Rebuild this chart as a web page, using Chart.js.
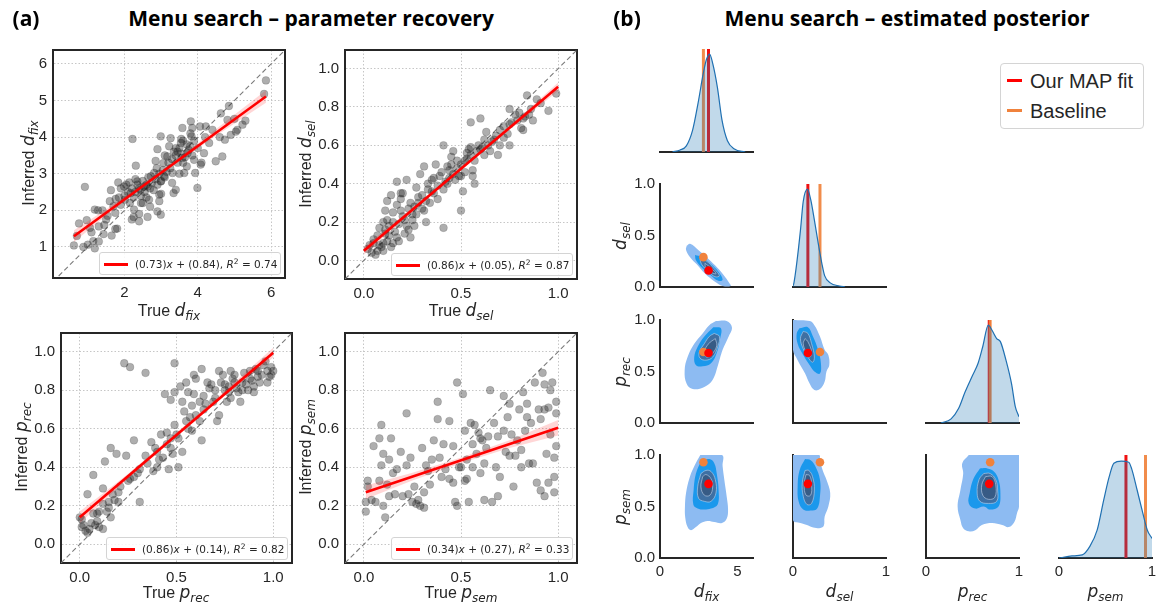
<!DOCTYPE html>
<html>
<head>
<meta charset="utf-8">
<script src="https://cdn.jsdelivr.net/npm/chart.js@4.4.0/dist/chart.umd.min.js"></script>
<style>
body { margin: 0; background: #fff; }
#fig { position: relative; width: 1156px; height: 607px; overflow: hidden; background: #fff; color: #262626; font-family: "Liberation Sans", Arial, sans-serif; }
#fig canvas { position: absolute; }
.t { position: absolute; white-space: nowrap; line-height: 1; }
.lab { font-size: 16px; }
.m { font-family: "DejaVu Sans"; font-style: italic; font-size: 17px; }
.m sub { font-size: 12px; vertical-align: -4px; line-height: 0; }
.big .m { font-size: 17px; }
.title { font-family: "Open Sans"; font-weight: 700; font-size: 21px; color: #000; }
.leg { position: absolute; box-sizing: border-box; border: 1px solid #d4d4d4; border-radius: 3px; background: rgba(255,255,255,0.85); font-family: "DejaVu Sans"; font-size: 10.5px; white-space: nowrap; }
.leg .ln { position: absolute; height: 2.5px; }
.leg .tx { position: absolute; }
.leg sup { font-size: 7.5px; vertical-align: 4px; line-height: 0; }
.bigleg { font-family: "Liberation Sans"; font-size: 20px; }
</style>
</head>
<body>
<div id="fig"></div>
<script>
// ---- panel (a): true vs inferred parameters ----
const fixPts = [[0.62,1.04],[0.76,1.64],[0.92,2.64],[0.88,1.0],[1.0,1.06],[0.97,1.73],[1.06,1.52],[1.19,2.02],[1.28,2.0],[1.19,0.96],[1.15,1.16],[1.3,1.56],[1.45,1.6],[1.43,1.35],[1.65,1.31],[1.75,1.49],[1.54,1.85],[1.7,2.11],[1.76,2.31],[1.63,2.55],[1.83,2.76],[1.75,1.93],[1.9,2.15],[2.01,2.29],[1.99,2.65],[2.13,2.76],[2.22,3.95],[2.26,2.02],[2.25,1.82],[2.31,3.22],[2.35,2.79],[2.43,2.56],[2.17,2.47],[2.54,2.65],[2.63,2.65],[2.67,2.29],[2.45,2.2],[2.4,1.7],[2.63,1.82],[2.72,2.93],[2.81,3.02],[2.88,3.15],[2.99,4.02],[2.9,3.67],[3.06,3.29],[2.99,2.79],[2.95,2.43],[2.9,1.97],[2.99,1.88],[3.08,2.93],[3.17,3.47],[3.26,3.97],[3.22,3.75],[3.34,2.47],[3.4,2.56],[3.31,3.02],[3.45,3.6],[3.54,3.84],[3.58,4.25],[3.58,3.43],[3.63,3.02],[3.7,3.2],[3.72,3.56],[3.81,4.43],[3.83,4.02],[3.85,4.25],[3.79,3.75],[3.9,3.38],[3.93,3.02],[3.99,2.61],[4.06,4.29],[4.08,3.25],[4.17,3.56],[4.22,4.29],[4.31,3.84],[4.49,3.34],[4.63,4.65],[4.67,3.47],[4.74,3.93],[4.85,4.85],[4.9,4.06],[5.04,4.15],[5.08,4.2],[5.22,4.34],[4.81,4.47],[5.81,5.18],[5.86,5.55],
  [2.1,2.5],[2.2,2.6],[2.3,2.5],[2.35,2.7],[2.4,2.6],[2.45,2.4],[2.5,2.8],[2.55,2.5],[2.6,2.7],[2.65,2.9],[2.7,2.6],[2.75,2.75],[2.8,2.55],[2.85,2.85],[2.9,2.7],[2.95,3.0],[3.0,2.8],[3.05,3.1],[3.1,2.9],[3.15,3.05],[3.2,3.3],[3.25,3.15],[3.3,3.4],[3.35,3.6],[3.4,3.5],[3.45,3.3],[3.5,3.7],[3.55,3.55],[3.6,3.9],[3.65,3.45],[3.7,3.8],[3.75,3.65],[3.8,4.1],[3.85,3.5],[3.55,3.95],[3.4,3.7],[2.0,2.4],[1.9,2.6],[2.15,2.2],[2.25,2.35],[2.5,2.2],[2.6,2.35],[2.3,2.85],[2.05,2.7],[1.85,2.35],[1.6,2.25],[1.4,2.0],[1.5,1.75],[2.7,2.1],[3.0,2.45],[3.3,2.75],[3.1,3.5],[2.85,3.35],[4.0,3.7],[4.2,4.0],[4.4,4.2],[3.9,3.9],[4.1,3.3],[3.6,3.3],[3.5,3.0],[2.95,2.25],[2.4,1.9],[2.2,1.75],[1.8,1.5],[1.1,1.4],[1.3,1.15],[0.7,1.3],[5.3,4.45],[5.0,4.5],[4.6,4.0]];

const selPts = [[0.02,0.06],[0.04,0.04],[0.07,0.05],[0.05,0.09],[0.08,0.08],[0.1,0.09],[0.11,0.14],[0.08,0.17],[0.12,0.21],[0.11,0.26],[0.12,0.31],[0.14,0.34],[0.13,0.13],[0.15,0.09],[0.17,0.12],[0.17,0.41],[0.19,0.26],[0.19,0.32],[0.2,0.35],[0.22,0.42],[0.21,0.21],[0.23,0.16],[0.24,0.3],[0.25,0.24],[0.26,0.18],[0.27,0.38],[0.28,0.33],[0.29,0.45],[0.31,0.49],[0.31,0.26],[0.32,0.2],[0.33,0.37],[0.34,0.3],[0.35,0.42],[0.36,0.35],[0.37,0.5],[0.38,0.32],[0.39,0.44],[0.41,0.6],[0.41,0.17],[0.41,0.37],[0.43,0.4],[0.43,0.49],[0.44,0.43],[0.45,0.54],[0.46,0.45],[0.46,0.57],[0.48,0.48],[0.49,0.44],[0.5,0.26],[0.5,0.44],[0.51,0.36],[0.52,0.52],[0.53,0.56],[0.54,0.58],[0.55,0.59],[0.55,0.72],[0.56,0.47],[0.56,0.44],[0.57,0.4],[0.58,0.57],[0.6,0.74],[0.61,0.59],[0.63,0.67],[0.65,0.57],[0.67,0.63],[0.69,0.55],[0.7,0.6],[0.75,0.79],[0.75,0.6],[0.75,0.71],[0.78,0.76],[0.81,0.69],[0.82,0.68],[0.83,0.75],[0.84,0.86],[0.86,0.79],[0.87,0.73],[0.89,0.84],[0.91,0.82],[0.95,0.78],[0.99,0.87],[0.79,0.73],[0.74,0.66],[0.72,0.64],[0.62,0.63],[0.59,0.6],
  [0.05,0.11],[0.07,0.13],[0.09,0.07],[0.12,0.1],[0.13,0.18],[0.15,0.2],[0.16,0.15],[0.18,0.19],[0.2,0.23],[0.22,0.18],[0.23,0.27],[0.25,0.21],[0.26,0.28],[0.27,0.24],[0.28,0.3],[0.3,0.27],[0.3,0.34],[0.32,0.31],[0.33,0.4],[0.35,0.36],[0.36,0.43],[0.38,0.39],[0.4,0.46],[0.42,0.41],[0.44,0.47],[0.45,0.5],[0.47,0.42],[0.48,0.52],[0.5,0.5],[0.52,0.46],[0.53,0.53],[0.55,0.55],[0.57,0.52],[0.6,0.58],[0.62,0.55],[0.64,0.6],[0.66,0.62],[0.68,0.65],[0.7,0.68],[0.72,0.7],[0.76,0.72],[0.8,0.77],[0.82,0.74],[0.85,0.76],[0.03,0.08],[0.06,0.03],[0.1,0.05],[0.14,0.07],[0.18,0.1],[0.21,0.14],[0.24,0.12],[0.17,0.29],[0.19,0.35],[0.15,0.25],[0.1,0.2],[0.11,0.16]];

const recPts = [[0,0.14],[0.01,0.09],[0.03,0.07],[0.04,0.06],[0.05,0.08],[0.04,0.26],[0.07,0.36],[0.07,0.16],[0.09,0.16],[0.09,0.12],[0.1,0.17],[0.12,0.08],[0.12,0.29],[0.13,0.43],[0.15,0.22],[0.16,0.14],[0.16,0.5],[0.17,0.26],[0.19,0.47],[0.2,0.22],[0.21,0.3],[0.23,0.94],[0.24,0.46],[0.26,0.92],[0.26,0.34],[0.28,0.54],[0.28,0.35],[0.31,0.22],[0.31,0.39],[0.34,0.89],[0.34,0.46],[0.37,0.53],[0.38,0.38],[0.39,0.5],[0.4,0.4],[0.41,0.44],[0.42,0.57],[0.43,0.45],[0.44,0.78],[0.45,0.58],[0.46,0.39],[0.47,0.75],[0.47,0.5],[0.48,0.47],[0.49,0.79],[0.49,0.94],[0.49,0.62],[0.51,0.4],[0.51,0.55],[0.52,0.82],[0.53,0.74],[0.53,0.48],[0.54,0.69],[0.55,0.84],[0.56,0.79],[0.57,0.66],[0.58,0.59],[0.59,0.88],[0.59,0.78],[0.6,0.67],[0.62,0.74],[0.63,0.91],[0.63,0.54],[0.64,0.7],[0.66,0.84],[0.67,0.81],[0.69,0.74],[0.71,0.64],[0.72,0.9],[0.72,0.67],[0.73,0.84],[0.75,0.8],[0.76,0.74],[0.78,0.9],[0.78,0.76],[0.79,0.86],[0.81,0.81],[0.83,0.74],[0.84,0.84],[0.85,0.89],[0.87,0.8],[0.89,0.85],[0.9,0.82],[0.92,0.87],[0.95,0.93],[0.97,0.9],[0.98,0.87],[0.99,0.92],[1.0,0.9],[0.97,0.84],[0.93,0.84],[0.91,0.91],
  [0.6,0.86],[0.64,0.77],[0.68,0.83],[0.7,0.76],[0.74,0.88],[0.77,0.82],[0.8,0.88],[0.82,0.79],[0.86,0.83],[0.88,0.9],[0.9,0.79],[0.94,0.88],[0.96,0.95],[0.99,0.88],[0.7,0.8],[0.65,0.73],[0.62,0.64],[0.56,0.6],[0.5,0.57],[0.45,0.52],[0.4,0.48],[0.35,0.42],[0.3,0.37],[0.25,0.33],[0.2,0.27],[0.15,0.19],[0.12,0.21],[0.08,0.1],[0.06,0.11],[0.02,0.1],[0.01,0.13],[0.1,0.09],[0.14,0.17],[0.18,0.23],[0.77,0.79],[0.8,0.84],[0.84,0.8],[0.92,0.9],[0.88,0.86],[0.75,0.83],[0.55,0.64],[0.47,0.55],[0.58,0.72]];

const semPts = [[0.01,0.22],[0.01,0.17],[0.02,0.3],[0.02,0.33],[0.04,0.23],[0.05,0.51],[0.06,0.22],[0.08,0.33],[0.08,0.55],[0.09,0.62],[0.09,0.41],[0.1,0.47],[0.1,0.2],[0.11,0.14],[0.12,0.31],[0.13,0.25],[0.13,0.44],[0.14,0.55],[0.15,0.37],[0.16,0.26],[0.17,0.39],[0.19,0.48],[0.2,0.25],[0.22,0.68],[0.22,0.41],[0.23,0.26],[0.24,0.45],[0.25,0.22],[0.26,0.3],[0.27,0.21],[0.28,0.23],[0.29,0.2],[0.3,0.5],[0.31,0.27],[0.31,0.19],[0.32,0.41],[0.33,0.38],[0.34,0.31],[0.35,0.44],[0.36,0.54],[0.38,0.65],[0.38,0.74],[0.39,0.45],[0.4,0.35],[0.41,0.52],[0.42,0.39],[0.44,0.64],[0.44,0.34],[0.46,0.32],[0.46,0.51],[0.47,0.22],[0.48,0.2],[0.48,0.84],[0.49,0.4],[0.5,0.4],[0.51,0.78],[0.52,0.59],[0.52,0.33],[0.53,0.44],[0.54,0.22],[0.55,0.63],[0.56,0.52],[0.56,0.4],[0.57,0.62],[0.58,0.47],[0.59,0.58],[0.6,0.37],[0.61,0.54],[0.62,0.42],[0.62,0.23],[0.63,0.5],[0.64,0.56],[0.65,0.8],[0.66,0.22],[0.67,0.63],[0.68,0.4],[0.69,0.56],[0.69,0.25],[0.7,0.35],[0.72,0.59],[0.72,0.77],[0.73,0.48],[0.74,0.66],[0.75,0.73],[0.76,0.57],[0.77,0.3],[0.78,0.46],[0.79,0.54],[0.8,0.7],[0.81,0.49],[0.82,0.79],[0.83,0.59],[0.84,0.66],[0.85,0.42],[0.86,0.63],[0.87,0.42],[0.88,0.84],[0.89,0.32],[0.91,0.65],[0.91,0.28],[0.92,0.89],[0.93,0.25],[0.93,0.7],[0.94,0.47],[0.95,0.71],[0.95,0.32],[0.96,0.8],[0.96,0.57],[0.97,0.84],[0.98,0.35],[0.98,0.45],[0.99,0.51],[0.99,0.74],[0.99,0.68],[0.98,0.27],[0.93,0.83],[0.9,0.7],[0.84,0.73],[0.81,0.4],[0.75,0.46],[0.6,0.55],[0.53,0.34]];

// fitted regression lines and their confidence bands
const fixFit = [[0.62,1.29],[5.86,5.11]];
const fixBandLo = [[0.62,1.13],[1.5,1.85],[2.5,2.62],[3.5,3.35],[4.5,4.04],[5.86,4.94]];
const fixBandHi = [[0.62,1.45],[1.5,2.03],[2.5,2.72],[3.5,3.45],[4.5,4.22],[5.86,5.28]];
const selFit = [[0.0,0.05],[1.0,0.905]];
const selBandLo = [[0,0.03],[0.25,0.254],[0.5,0.47],[0.75,0.681],[1,0.883]];
const selBandHi = [[0,0.07],[0.25,0.274],[0.5,0.486],[0.75,0.701],[1,0.927]];
const recFit = [[0.0,0.14],[1.0,0.995]];
const recBandLo = [[0,0.11],[0.25,0.342],[0.5,0.56],[0.75,0.773],[1,0.97]];
const recBandHi = [[0,0.17],[0.25,0.366],[0.5,0.58],[0.75,0.797],[1,1.02]];
const semFit = [[0.01,0.27],[1.0,0.605]];
const semBandLo = [[0.01,0.235],[0.25,0.331],[0.5,0.421],[0.75,0.5],[1,0.565]];
const semBandHi = [[0.01,0.305],[0.25,0.371],[0.5,0.451],[0.75,0.54],[1,0.645]];

const fitSlopes = ['0.73', '0.86', '0.86', '0.34'];
const fitIntercepts = ['0.84', '0.05', '0.14', '0.27'];
const fitR2 = ['0.74', '0.87', '0.82', '0.33'];

const fixTicks = [2, 4, 6];
const fixTickLabels = ['2', '4', '6'];
const fixYTicks = [1, 2, 3, 4, 5, 6];
const fixYTickLabels = ['1', '2', '3', '4', '5', '6'];
const unitTicks = [0, 0.5, 1];
const unitTickLabels = ['0.0', '0.5', '1.0'];
const unitYTicks = [0, 0.2, 0.4, 0.6, 0.8, 1.0];
const unitYTickLabels = ['0.0', '0.2', '0.4', '0.6', '0.8', '1.0'];

// ---- panel (b): posterior corner plot ----
const cornerNames = ['fix', 'sel', 'rec', 'sem'];
const cornerSymbols = ['d', 'd', 'p', 'p'];
const cornerRanges = [[0, 6], [0, 1], [0, 1], [0, 1]];
const cornerXTicks = [[0, 5], [0, 1], [0, 1], [0, 1]];
const cornerXTickLabels = [['0', '5'], ['0', '1'], ['0', '1'], ['0', '1']];
const mapFit = [3.13, 0.16, 0.68, 0.72];
const baseline = [2.8, 0.29, 0.69, 0.93];

const kdeFix = [[0.8,0],[1.3,0.02],[1.7,0.06],[2.1,0.21],[2.45,0.47],[2.8,0.77],[3.0,0.9],[3.2,0.95],[3.4,0.86],[3.7,0.63],[4.0,0.31],[4.35,0.11],[4.8,0.03],[5.5,0]];
const kdeSel = [[0.0,0.01],[0.01,0.04],[0.04,0.23],[0.08,0.55],[0.11,0.83],[0.156,0.95],[0.19,0.85],[0.23,0.65],[0.27,0.43],[0.31,0.23],[0.34,0.11],[0.4,0.04],[0.5,0.01],[0.56,0]];
const kdeRec = [[0.16,0],[0.27,0.04],[0.35,0.14],[0.42,0.3],[0.5,0.46],[0.56,0.58],[0.61,0.74],[0.67,0.95],[0.71,0.9],[0.76,0.82],[0.8,0.79],[0.86,0.61],[0.92,0.38],[0.96,0.16],[1.0,0.06]];
const kdeSem = [[0.0,0],[0.14,0.02],[0.25,0.03],[0.33,0.11],[0.41,0.27],[0.48,0.56],[0.54,0.79],[0.59,0.92],[0.67,0.94],[0.75,0.93],[0.78,0.87],[0.84,0.66],[0.9,0.44],[0.95,0.27],[1.0,0.19]];

// density contour polygons, outermost level first
const contSelFix = [
  [[1.72,0.40],[1.94,0.42],[2.47,0.36],[3.01,0.29],[3.55,0.21],[4.09,0.12],[4.47,0.04],[4.56,0.01],[4.04,0.01],[3.55,0.05],[2.90,0.13],[2.37,0.22],[1.94,0.29],[1.68,0.36]],
  [[2.26,0.31],[2.69,0.29],[3.23,0.23],[3.76,0.15],[4.04,0.07],[3.76,0.06],[3.23,0.12],[2.69,0.19],[2.32,0.26]],
  [[2.58,0.27],[3.01,0.25],[3.48,0.18],[3.83,0.11],[3.55,0.10],[3.12,0.15],[2.69,0.22]],
  [[2.9,0.23],[3.33,0.18],[3.61,0.13],[3.33,0.14],[2.96,0.18]]];
const contRecFix = [
  [[3.61,0.99],[4.3,0.99],[4.64,0.93],[4.43,0.84],[4.04,0.71],[3.72,0.55],[3.4,0.42],[2.86,0.35],[2.11,0.33],[1.72,0.38],[1.59,0.51],[1.78,0.64],[2.21,0.77],[2.75,0.87],[3.18,0.95]],
  [[3.44,0.93],[3.93,0.92],[3.87,0.81],[3.66,0.68],[3.29,0.58],[2.75,0.55],[2.32,0.56],[2.21,0.64],[2.43,0.74],[2.86,0.84]],
  [[3.5,0.87],[3.83,0.84],[3.72,0.74],[3.4,0.64],[2.97,0.61],[2.58,0.63],[2.54,0.69],[2.86,0.77],[3.18,0.84]],
  [[3.57,0.82],[3.66,0.75],[3.35,0.67],[3.01,0.64],[2.86,0.69],[3.14,0.77]]];
const contRecSel = [
  [[0.0,1.0],[0.18,0.99],[0.23,0.95],[0.29,0.84],[0.34,0.71],[0.38,0.66],[0.39,0.56],[0.36,0.5],[0.34,0.4],[0.29,0.33],[0.23,0.32],[0.18,0.38],[0.13,0.48],[0.05,0.61],[0.0,0.71]],
  [[0.07,0.92],[0.16,0.93],[0.21,0.85],[0.27,0.71],[0.3,0.58],[0.29,0.48],[0.23,0.5],[0.18,0.56],[0.11,0.66],[0.05,0.77],[0.04,0.87]],
  [[0.11,0.89],[0.16,0.87],[0.2,0.77],[0.23,0.64],[0.21,0.59],[0.16,0.64],[0.11,0.72],[0.08,0.82]],
  [[0.13,0.82],[0.16,0.79],[0.2,0.69],[0.18,0.64],[0.14,0.69],[0.11,0.77]]];
const contSemFix = [
  [[2.6,1.0],[2.21,0.89],[1.89,0.77],[1.68,0.63],[1.61,0.50],[1.63,0.39],[1.78,0.30],[2.0,0.27],[2.32,0.30],[2.64,0.34],[3.07,0.36],[3.5,0.35],[4.0,0.34],[4.3,0.38],[4.39,0.47],[4.3,0.6],[4.15,0.76],[4.04,0.89],[4.0,1.0]],
  [[2.64,0.94],[2.32,0.82],[2.17,0.66],[2.15,0.52],[2.43,0.48],[2.86,0.47],[3.29,0.48],[3.72,0.52],[3.78,0.66],[3.66,0.82],[3.5,0.92],[3.18,0.96]],
  [[2.64,0.82],[2.43,0.69],[2.49,0.58],[2.86,0.55],[3.29,0.55],[3.61,0.63],[3.57,0.76],[3.29,0.84],[2.97,0.85]],
  [[2.75,0.79],[2.64,0.69],[2.86,0.61],[3.22,0.61],[3.4,0.69],[3.29,0.77],[2.97,0.81]]];
const contSemSel = [
  [[0.0,1.0],[0.0,0.37],[0.08,0.34],[0.15,0.32],[0.2,0.3],[0.28,0.29],[0.33,0.31],[0.34,0.4],[0.38,0.5],[0.4,0.63],[0.36,0.76],[0.32,0.85],[0.29,0.95],[0.28,1.0]],
  [[0.13,0.96],[0.07,0.85],[0.05,0.69],[0.06,0.55],[0.11,0.47],[0.19,0.46],[0.26,0.48],[0.29,0.6],[0.29,0.76],[0.24,0.89],[0.19,0.95]],
  [[0.13,0.85],[0.1,0.73],[0.11,0.6],[0.15,0.52],[0.2,0.53],[0.23,0.66],[0.21,0.79],[0.17,0.85]],
  [[0.14,0.81],[0.12,0.71],[0.14,0.61],[0.19,0.61],[0.2,0.71],[0.18,0.8]]];
const contSemRec = [
  [[0.46,1.0],[0.39,0.92],[0.4,0.82],[0.37,0.66],[0.34,0.5],[0.37,0.37],[0.4,0.29],[0.46,0.26],[0.53,0.27],[0.6,0.32],[0.71,0.34],[0.82,0.32],[0.89,0.3],[0.95,0.35],[0.98,0.44],[1.0,0.5],[1.0,1.0]],
  [[0.58,0.87],[0.51,0.77],[0.47,0.63],[0.46,0.53],[0.53,0.48],[0.62,0.5],[0.69,0.47],[0.78,0.5],[0.8,0.63],[0.78,0.76],[0.73,0.84],[0.66,0.87]],
  [[0.62,0.82],[0.57,0.76],[0.55,0.63],[0.58,0.55],[0.67,0.53],[0.76,0.55],[0.77,0.66],[0.75,0.76],[0.69,0.82]],
  [[0.64,0.79],[0.6,0.71],[0.61,0.61],[0.67,0.57],[0.74,0.59],[0.75,0.71],[0.71,0.79]]];

const contourColors = ['#8dbbf2', '#1b98ec', '#3f70a3', '#375b85'];
const RED = '#ff0000';
const ORANGE = '#f0823c';
const DARK = '#262626';

Chart.defaults.font.family = 'Liberation Sans';
const FIG = document.getElementById('fig');

function addText(html, cx, cy, cls, rot) {
  const d = document.createElement('div');
  d.className = 't ' + (cls || '');
  d.innerHTML = html;
  d.style.left = cx + 'px';
  d.style.top = cy + 'px';
  d.style.transform = 'translate(-50%,-50%)' + (rot ? ' rotate(-90deg)' : '');
  FIG.appendChild(d);
  return d;
}

function math(sym, sub) {
  return '<span class="m">' + sym + '<sub>' + sub + '</sub></span>';
}

function axis(pos, min, max, o) {
  o = o || {};
  const horiz = pos === 'bottom' || pos === 'top';
  return {
    type: 'linear', position: pos, axis: horiz ? 'x' : 'y', min: min, max: max, bounds: 'data',
    afterFit: s => { if (horiz) s.height = o.size || 0; else s.width = o.size || 0; },
    afterBuildTicks: s => { s.ticks = (o.ticks || []).map(v => ({ value: v })); },
    ticks: {
      display: !!o.labels, autoSkip: false, maxRotation: 0, padding: o.pad || 5, color: DARK,
      font: { size: 15 }, callback: (v, i) => (o.labels ? o.labels[i] : '')
    },
    grid: { display: !!o.grid, drawTicks: false, color: '#c6c6c6', lineWidth: 1 },
    border: { display: o.border !== false, color: DARK, width: 2, dash: [1.5, 2] }
  };
}

function makeChart(box, datasets, scales) {
  const padT = 14, padR = 18;
  const cw = box.w + box.padL + padR, ch = box.h + padT + box.padB;
  const c = document.createElement('canvas');
  c.width = cw; c.height = ch;
  c.style.left = (box.l - box.padL) + 'px';
  c.style.top = (box.t - padT) + 'px';
  c.style.width = cw + 'px';
  c.style.height = ch + 'px';
  FIG.appendChild(c);
  return new Chart(c, {
    type: 'scatter',
    data: { datasets: datasets },
    options: {
      responsive: false, animation: false, devicePixelRatio: 1,
      layout: { padding: { top: padT, right: padR, left: 0, bottom: 0 } },
      plugins: { legend: { display: false }, tooltip: { enabled: false } },
      scales: scales
    }
  });
}

// ---- recovery scatter panels ----
function recoveryPanel(box, lim, pts, fit, lo, hi, xt, xl, yt, yl, k) {
  const datasets = [
    { data: fit, showLine: true, borderColor: RED, borderWidth: 2.6, pointRadius: 0, order: 0 },
    { data: lo, showLine: true, borderColor: 'rgba(0,0,0,0)', pointRadius: 0, fill: false, order: 1 },
    { data: hi, showLine: true, borderColor: 'rgba(0,0,0,0)', pointRadius: 0, fill: '-1', backgroundColor: 'rgba(255,0,0,0.16)', order: 1 },
    { data: pts, pointRadius: 3.9, backgroundColor: 'rgba(30,30,30,0.36)', borderColor: 'rgba(30,30,30,0.25)', borderWidth: 0.6, order: 2 },
    { data: [[lim[0], lim[0]], [lim[1], lim[1]]], showLine: true, borderColor: '#7a7a7a', borderWidth: 1.1, borderDash: [5, 3], pointRadius: 0, order: 3 }
  ];
  const scales = {
    x: axis('bottom', lim[0], lim[1], { size: 30, ticks: xt, labels: xl, grid: true, pad: 6 }),
    y: axis('left', lim[2], lim[3], { size: 40, ticks: yt, labels: yl, grid: true, pad: 6 }),
    xTop: axis('top', 0, 1, {}),
    yRight: axis('right', 0, 1, {})
  };
  makeChart(Object.assign({ padL: 40, padB: 30 }, box), datasets, scales);

  // legend box in lower right corner
  const lg = document.createElement('div');
  lg.className = 'leg';
  lg.style.left = (box.l + box.w - 186) + 'px';
  lg.style.top = (box.t + box.h - 26) + 'px';
  lg.style.width = '182px';
  lg.style.height = '23px';
  lg.innerHTML = '<div class="ln" style="left:4px;top:10px;width:24px;background:' + RED + '"></div>' +
    '<div class="tx" style="left:35px;top:5px">(' + fitSlopes[k] + ')<i>x</i> + (' + fitIntercepts[k] + '), <i>R</i><sup>2</sup> = ' + fitR2[k] + '</div>';
  FIG.appendChild(lg);
}

const U = [-0.097, 1.097, -0.097, 1.097];
recoveryPanel({ l: 53, t: 49, w: 232, h: 229 }, [0.05, 6.38, 0.15, 6.38], fixPts, fixFit, fixBandLo, fixBandHi, fixTicks, fixTickLabels, fixYTicks, fixYTickLabels, 0);
recoveryPanel({ l: 345, t: 49, w: 232, h: 230 }, U, selPts, selFit, selBandLo, selBandHi, unitTicks, unitTickLabels, unitYTicks, unitYTickLabels, 1);
recoveryPanel({ l: 61, t: 332, w: 231, h: 231 }, U, recPts, recFit, recBandLo, recBandHi, unitTicks, unitTickLabels, unitYTicks, unitYTickLabels, 2);
recoveryPanel({ l: 345, t: 332, w: 232, h: 231 }, U, semPts, semFit, semBandLo, semBandHi, unitTicks, unitTickLabels, unitYTicks, unitYTickLabels, 3);

// diagonal line for fix panel must match its own limits
addText('Inferred ' + math('d', 'fix'), 28, 163, 'lab', true);
addText('True ' + math('d', 'fix'), 169, 310, 'lab');
addText('Inferred ' + math('d', 'sel'), 305, 164, 'lab', true);
addText('True ' + math('d', 'sel'), 461, 310, 'lab');
addText('Inferred ' + math('p', 'rec'), 21, 447, 'lab', true);
addText('True ' + math('p', 'rec'), 176, 592, 'lab');
addText('Inferred ' + math('p', 'sem'), 305, 447, 'lab', true);
addText('True ' + math('p', 'sem'), 461, 592, 'lab');

// ---- corner plot ----
const colL = [660, 793, 926, 1059];
const rowT = [49, 184, 320, 455];
const PW = 93, PH = 103;
const kdes = [kdeFix, kdeSel, kdeRec, kdeSem];
const contours = { '1,0': contSelFix, '2,0': contRecFix, '2,1': contRecSel, '3,0': contSemFix, '3,1': contSemSel, '3,2': contSemRec };

function closed(poly) { return poly.concat([poly[0]]); }

function cornerPanel(r, c) {
  let datasets;
  if (r === c) {
    datasets = [
      { data: kdes[c], showLine: true, borderColor: '#1f70b2', borderWidth: 1.2, pointRadius: 0, fill: 'origin',
        backgroundColor: 'rgba(31,119,180,0.28)', cubicInterpolationMode: 'monotone', order: 0 },
      { data: [[baseline[c], 0], [baseline[c], 1]], showLine: true, borderColor: 'rgba(240,130,60,0.92)', borderWidth: 3, pointRadius: 0, order: 1 },
      { data: [[mapFit[c], 0], [mapFit[c], 1]], showLine: true, borderColor: '#f01010', borderWidth: 3, pointRadius: 0, order: 2 }
    ];
  } else {
    datasets = contours[r + ',' + c].map((poly, i) => ({
      data: closed(poly), showLine: true, fill: 'shape', tension: 0.4, pointRadius: 0,
      backgroundColor: contourColors[i],
      borderColor: i < 2 ? contourColors[i] : 'rgba(185,205,230,0.8)', borderWidth: i < 2 ? 0 : 0.8,
      order: 10 - i
    }));
    datasets.push({ data: [[baseline[c], baseline[r]]], pointRadius: 4.3, backgroundColor: ORANGE, borderWidth: 0, order: 1 });
    datasets.push({ data: [[mapFit[c], mapFit[r]]], pointRadius: 4.3, backgroundColor: RED, borderWidth: 0, order: 0 });
  }
  const xr = cornerRanges[c];
  const yr = r === c ? [0, 1] : cornerRanges[r];
  const scales = {
    x: axis('bottom', xr[0], xr[1], { size: 26, ticks: r === 3 ? cornerXTicks[c] : [], labels: r === 3 ? cornerXTickLabels[c] : null, pad: 5 }),
    y: axis('left', yr[0], yr[1], { size: 40, ticks: (c === 0 && r > 0) ? unitTicks : [], labels: (c === 0 && r > 0) ? unitTickLabels : null, border: r !== c, pad: 5 })
  };
  makeChart({ l: colL[c], t: rowT[r], w: PW, h: PH, padL: 40, padB: 26 }, datasets, scales);
}

for (let r = 0; r < 4; r++) {
  for (let c = 0; c <= r; c++) cornerPanel(r, c);
}

for (let i = 0; i < 4; i++) {
  addText(math(cornerSymbols[i], cornerNames[i]), colL[i] + PW / 2, 591, 'big');
  if (i > 0) addText(math(cornerSymbols[i], cornerNames[i]), 620, rowT[i] + PH / 2, 'big', true);
}

// corner legend
const bl = document.createElement('div');
bl.className = 'leg bigleg';
Object.assign(bl.style, { left: '1000px', top: '63px', width: '144px', height: '66px', borderRadius: '4px', color: DARK });
bl.innerHTML =
  '<div class="ln" style="left:6px;top:15px;width:15px;height:3px;background:' + RED + '"></div>' +
  '<div class="tx" style="left:29px;top:6px">Our MAP fit</div>' +
  '<div class="ln" style="left:6px;top:45px;width:15px;height:3px;background:' + ORANGE + '"></div>' +
  '<div class="tx" style="left:29px;top:36px">Baseline</div>';
FIG.appendChild(bl);

// titles
addText('(a)', 26, 18, 'title');
addText('Menu search – parameter recovery', 311, 18, 'title');
addText('(b)', 627, 18, 'title');
addText('Menu search – estimated posterior', 907, 18, 'title');
</script>
</body>
</html>
